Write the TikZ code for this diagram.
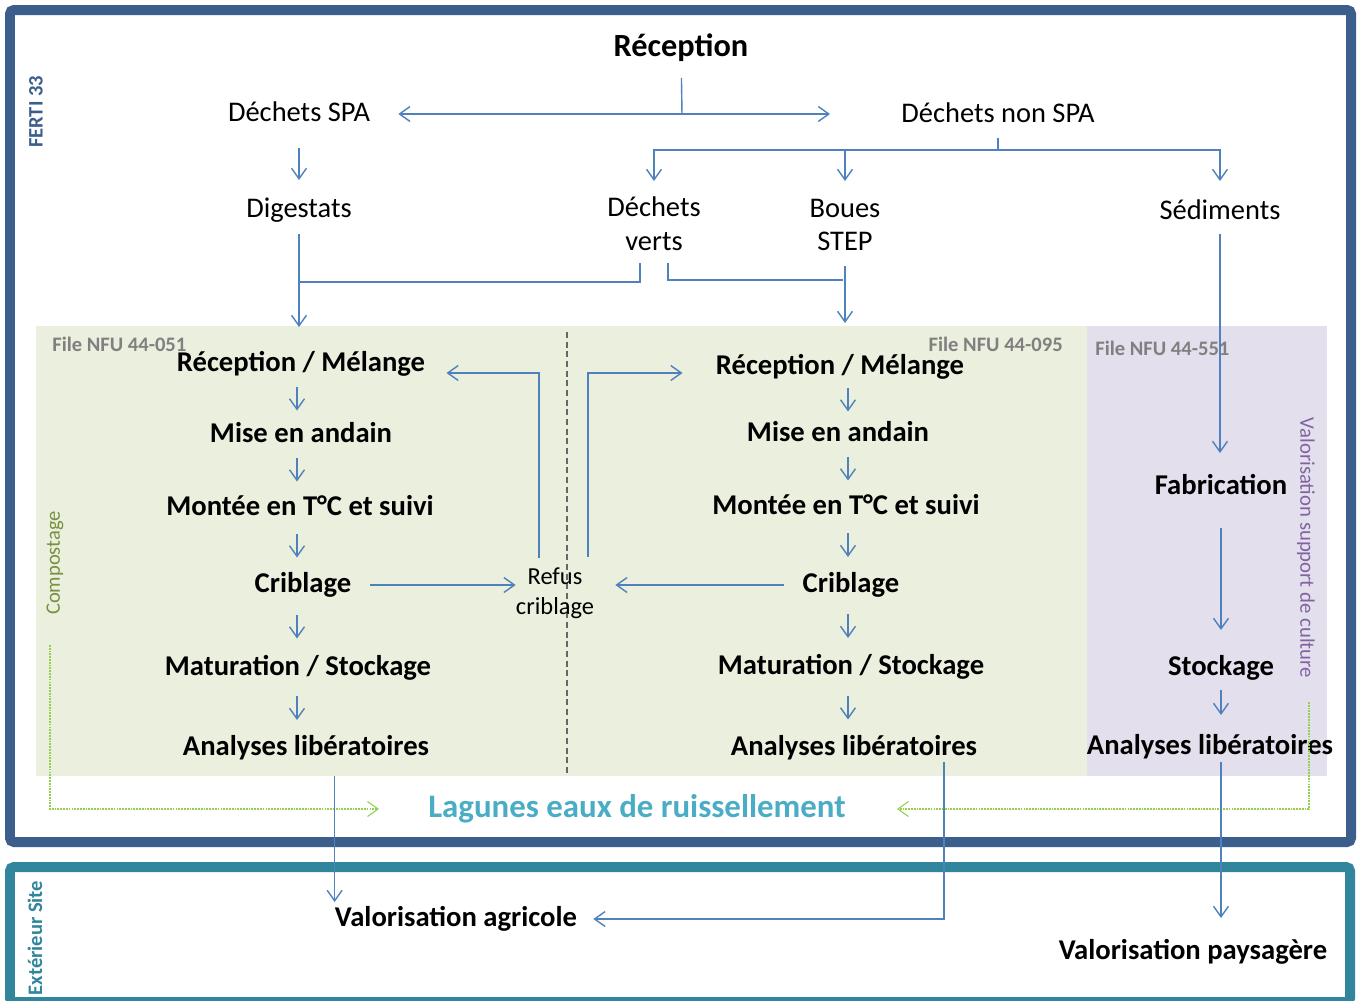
\documentclass[tikz,border=0pt]{standalone}
\usepackage{fontspec}
\setmainfont{Carlito}
\usetikzlibrary{arrows.meta,calc}
\definecolor{ferti}{RGB}{59,94,140}
\definecolor{exter}{RGB}{49,133,156}
\definecolor{compo}{RGB}{235,239,222}
\definecolor{lavande}{RGB}{228,223,236}
\definecolor{fleche}{RGB}{79,129,189}
\definecolor{lagune}{RGB}{75,172,198}
\definecolor{vertclair}{RGB}{146,208,80}
\definecolor{gris}{RGB}{128,128,128}
\definecolor{olive}{RGB}{118,146,60}
\definecolor{violet}{RGB}{128,100,162}
\begin{document}
\begin{tikzpicture}[x=0.02cm,y=-0.02cm,
  ln/.style={draw=fleche,line width=0.8pt},
  arr/.style={ln,-{Straight Barb[length=6pt,width=8.5pt]}},
  garr/.style={draw=vertclair,line width=0.6pt,dash pattern=on 1pt off 0.6pt,-{Straight Barb[length=6pt,width=8.5pt]}},
  txt/.style={inner sep=0,align=center,font=\fontsize{16.2}{19.3}\selectfont},
  etape/.style={inner sep=0,font=\bfseries\fontsize{16.3}{18}\selectfont},
  file/.style={inner sep=0,text=gris,font=\bfseries\fontsize{11.7}{13}\selectfont},
  side/.style={inner sep=0,rotate=90,font=\bfseries\fontsize{11.7}{13}\selectfont}]
\useasboundingbox (0,0) rectangle (1357,1001);
\fill[compo] (36,326) rectangle (1087,776);
\fill[lavande] (1087,326) rectangle (1327,776);
\draw[gris!80!black,line width=1.2pt,dash pattern=on 3.5pt off 2pt] (567,332) -- (567,776);
\draw[ferti,line width=0.2cm,rounded corners=0.08cm] (10,10) rectangle (1351,842);
\draw[exter,line width=0.2cm,rounded corners=0.08cm] (10,867) rectangle (1350,1002);
\node[side,text=ferti] (f33) at (36,112) {FERTI 33};
\node[side,text=exter] (exs) at (35,938) {Extérieur Site};
\node[side,font=\fontsize{11.7}{13}\selectfont,text=olive] (cmp) at (55,563) {Compostage};
\node[side,rotate=180,font=\fontsize{11.8}{13}\selectfont,text=violet] (vsc) at (1306,548) {Valorisation support de culture};
\node[file,anchor=west] (f1) at (52,344) {File NFU 44-051};
\node[file,anchor=east] (f2) at (1063,344) {File NFU 44-095};
\node[file,anchor=west] (f3) at (1095,348) {File NFU 44-551};
\node[inner sep=0,font=\bfseries\fontsize{18.4}{20}\selectfont] (rec) at (681,48) {Réception};
\node[txt] (spa) at (299,112) {Déchets SPA};
\node[txt] (nspa) at (998,113) {Déchets non SPA};
\node[txt] (dig) at (299,210) {Digestats};
\node[txt] (dv) at (654,224) {Déchets\\verts};
\node[txt] (bst) at (845,225) {Boues\\STEP};
\node[txt] (sed) at (1220,210) {Sédiments};
\node[etape] (l1) at (301,364) {Réception / Mélange};
\node[etape] (l2) at (301,433) {Mise en andain};
\node[etape] (l3) at (300,506) {Montée en T°C et suivi};
\node[etape] (l4) at (303,585) {Criblage};
\node[etape] (l5) at (298,668) {Maturation / Stockage};
\node[etape] (l6) at (306,748) {Analyses libératoires};
\node[etape] (r1) at (840,367) {Réception / Mélange};
\node[etape] (r2) at (838,432) {Mise en andain};
\node[etape] (r3) at (846,505) {Montée en T°C et suivi};
\node[etape] (r4) at (851,585) {Criblage};
\node[etape] (r5) at (851,667) {Maturation / Stockage};
\node[etape] (r6) at (854,748) {Analyses libératoires};
\node[etape] (fab) at (1221,485) {Fabrication};
\node[etape] (stk) at (1221,668) {Stockage};
\node[etape] (an3) at (1210,747) {Analyses libératoires};
\node[inner sep=0,align=center,font=\fontsize{13.9}{17}\selectfont] (ref) at (555,593) {Refus\\criblage};
\node[inner sep=0,text=lagune,font=\bfseries\fontsize{18.7}{20}\selectfont] (lag) at (637,809) {Lagunes eaux de ruissellement};
\node[etape] (va) at (456,919) {Valorisation agricole};
\node[etape] (vp) at (1193,952) {Valorisation paysagère};
\coordinate (sp) at (682,114);
\coordinate (ns) at (998,150);
\coordinate (j1) at (299,282);
\coordinate (j2) at (843,280);
\coordinate (lc) at (297,0);
\coordinate (rc) at (848,0);
\coordinate (gl) at (50,645);
\coordinate (gr) at (1309,702);
\draw[ln,shorten <=0.6cm] (rec.center) -- (sp);
\draw[arr,shorten >=0.56cm] (sp) -- (spa.east|-sp);
\draw[arr,shorten >=1.42cm] (sp) -- (nspa.west|-sp);
\draw[arr,shorten <=0.72cm,shorten >=0.6cm] (spa.center) -- (dig.center);
\draw[ln,shorten <=0.5cm] (nspa.center) -- (ns);
\draw[arr,shorten >=0.86cm] (ns) -| (dv.center);
\draw[arr,shorten >=0.88cm] (ns) -| (bst.center);
\draw[arr,shorten >=0.58cm] (ns) -| (sed.center);
\draw[arr,shorten <=0.48cm,shorten >=0.74cm] (dig.center) -- (dig.center|-l1.center);
\draw[ln,shorten <=0.24cm] ([xshift=-0.28cm]dv.south) |- (j1);
\draw[ln,shorten <=0.24cm] ([xshift=0.28cm]dv.south) |- (j2);
\draw[arr,shorten <=0.82cm,shorten >=0.88cm] (bst.center) -- (bst.center|-r1.center);
\draw[arr,shorten <=0.48cm,shorten >=0.64cm] (sed.center) -- (sed.center|-fab.center);
\foreach \a/\b in {l1/l2,l2/l3,l3/l4,l4/l5,l5/l6}{\draw[arr] ($(lc|-\a)!0.5!(lc|-\b)+(0,-12)$) -- ++(0,24);}
\foreach \a/\b in {r1/r2,r2/r3,r3/r4,r4/r5,r5/r6}{\draw[arr] ($(rc|-\a)!0.5!(rc|-\b)+(0,-12)$) -- ++(0,24);}
\draw[arr,shorten <=0.86cm,shorten >=0.76cm] (fab.center) -- (fab.center|-stk.center);
\draw[arr,shorten <=0.44cm,shorten >=0.64cm] (fab|-stk) -- (fab|-an3);
\draw[arr,shorten <=0.36cm] (l4.east) -- (l4.east-|ref.west);
\draw[arr,shorten <=0.36cm,shorten >=0.42cm] (r4.west) -- (r4.west-|ref.east);
\draw[arr,shorten >=0.42cm] ([xshift=-0.32cm,yshift=0.18cm]ref.north) |- ([yshift=-0.18cm]l1.east);
\draw[arr,shorten >=0.66cm] ([xshift=0.66cm,yshift=0.2cm]ref.north) |- ([yshift=-0.12cm]r1.west);
\draw[garr,shorten >=0.98cm] (gl) |- (lag.west);
\draw[garr,shorten >=1.02cm] (gr) |- (lag.east);
\draw[arr,shorten <=0.56cm,shorten >=0.34cm] (va.west|-l6) -- (va.west);
\draw[arr,shorten <=0.28cm,shorten >=0.32cm] ([xshift=1.8cm]r6.center) |- (va.east);
\draw[arr,shorten <=0.3cm,shorten >=0.68cm] (fab|-an3) -- (fab|-vp);
\end{tikzpicture}
\end{document}
